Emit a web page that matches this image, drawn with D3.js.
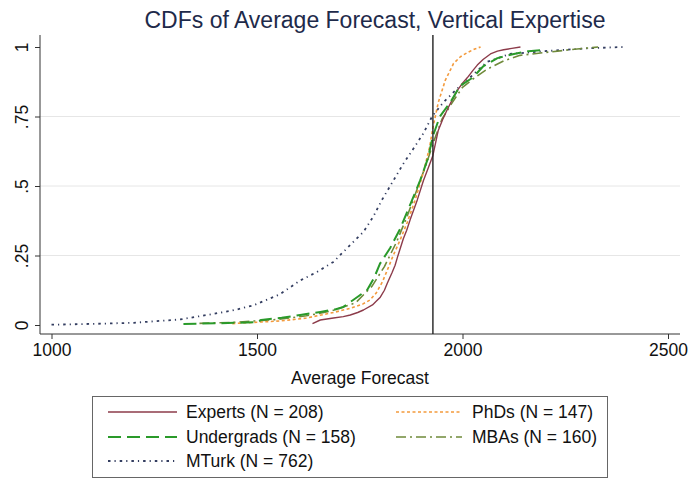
<!DOCTYPE html>
<html>
<head>
<meta charset="utf-8">
<script src="https://cdn.jsdelivr.net/npm/d3@7"></script>
<style>
  html, body { margin: 0; padding: 0; background: #fff; }
  svg { display: block; font-family: "Liberation Sans", Arial, Helvetica, sans-serif; }
</style>
</head>
<body>
<svg id="chart" width="690" height="481"></svg>
<script>
// Empirical CDFs of the average forecast, by forecaster group: [forecast, cumulative share]
const experts = [[1635,0.005],[1654,0.018],[1686,0.025],[1710,0.03],[1727,0.036],[1745,0.045],[1759,0.054],[1781,0.072],[1790,0.085],[1800,0.10],[1810,0.125],[1817,0.15],[1829,0.19],[1836,0.215],[1842,0.245],[1856,0.31],[1864,0.34],[1873,0.38],[1890,0.45],[1905,0.52],[1918,0.57],[1928,0.61],[1941,0.70],[1952,0.74],[1963,0.775],[1975,0.81],[1988,0.845],[2000,0.87],[2012,0.89],[2025,0.915],[2036,0.935],[2050,0.955],[2068,0.975],[2085,0.985],[2100,0.99],[2120,0.995],[2141,1.0]];
const phds = [[1440,0.005],[1500,0.01],[1560,0.015],[1620,0.025],[1686,0.045],[1727,0.06],[1757,0.075],[1775,0.09],[1790,0.115],[1805,0.155],[1815,0.19],[1830,0.245],[1848,0.305],[1865,0.367],[1885,0.45],[1905,0.55],[1920,0.64],[1928,0.71],[1941,0.80],[1958,0.88],[1978,0.94],[1995,0.965],[2012,0.98],[2030,0.993],[2044,1.0]];
const undergrads = [[1321,0.004],[1400,0.006],[1500,0.01],[1510,0.018],[1560,0.026],[1605,0.036],[1654,0.047],[1690,0.056],[1710,0.065],[1734,0.09],[1768,0.126],[1785,0.17],[1799,0.22],[1824,0.277],[1848,0.345],[1872,0.43],[1897,0.52],[1916,0.60],[1928,0.68],[1945,0.75],[1970,0.80],[1994,0.86],[2025,0.89],[2050,0.93],[2085,0.96],[2125,0.975],[2160,0.985],[2200,0.99]];
const mbas = [[1360,0.006],[1450,0.01],[1550,0.02],[1620,0.033],[1680,0.05],[1740,0.08],[1780,0.14],[1810,0.21],[1840,0.30],[1865,0.39],[1890,0.49],[1912,0.58],[1930,0.66],[1950,0.74],[1975,0.80],[2000,0.855],[2030,0.89],[2060,0.92],[2100,0.95],[2140,0.97],[2200,0.98],[2260,0.99],[2330,1.0]];
const mturk = [[1000,0.001],[1100,0.004],[1200,0.008],[1313,0.02],[1378,0.036],[1440,0.052],[1490,0.07],[1555,0.11],[1605,0.16],[1645,0.19],[1686,0.227],[1727,0.288],[1759,0.335],[1783,0.39],[1804,0.45],[1832,0.52],[1856,0.58],[1880,0.633],[1905,0.69],[1926,0.75],[1953,0.80],[1987,0.85],[2018,0.89],[2059,0.946],[2115,0.975],[2200,0.985],[2300,0.995],[2390,1.0]];

// Realized value shown as a vertical reference line
const realized = [1928];

const xTicks = [1000, 1500, 2000, 2500];
const yTicks = [0, 0.25, 0.5, 0.75, 1];
const yTickLabels = ["0", ".25", ".5", ".75", "1"];
const gridTicks = [0.25, 0.5, 0.75];

const seriesNames = ["Experts (N = 208)", "PhDs (N = 147)", "Undergrads (N = 158)", "MBAs (N = 160)", "MTurk (N = 762)"];
const seriesData = [experts, phds, undergrads, mbas, mturk];

const styles = [
  { color: "#8c3b4a", dash: null, width: 1.4 },
  { color: "#f39a3c", dash: "3,2.5", width: 1.6 },
  { color: "#2a9a2a", dash: "13,6", width: 2.0 },
  { color: "#6f8a3a", dash: "10,4,2,4", width: 1.6 },
  { color: "#333d60", dash: "2.5,4,1.2,4", width: 1.8 }
];

const svg = d3.select("#chart");
const plot = { left: 40, right: 680, top: 35, bottom: 334 };

const x = d3.scaleLinear().domain([1000, 2500]).range([51.5, 668]);
const y = d3.scaleLinear().domain([0, 1]).range([325, 47]);

// Horizontal grid lines
svg.append("g").selectAll("line").data(gridTicks).join("line")
  .attr("x1", plot.left).attr("x2", plot.right)
  .attr("y1", d => y(d)).attr("y2", d => y(d))
  .attr("stroke", "#e6e6e6").attr("stroke-width", 1);

// Axes
const xAxis = d3.axisBottom(x).tickValues(xTicks).tickSize(5).tickPadding(5).tickFormat(d3.format("d"));
const gx = svg.append("g").attr("transform", `translate(0,${plot.bottom})`).call(xAxis);
gx.select(".domain").remove();
gx.append("line").attr("x1", plot.left).attr("x2", plot.right).attr("stroke", "#333");
gx.selectAll(".tick line").attr("stroke", "#333");
gx.selectAll(".tick text").attr("font-size", 17.5).attr("fill", "#111").attr("font-family", "Liberation Sans, Arial, sans-serif");

const yAxis = d3.axisLeft(y).tickValues(yTicks).tickSize(5).tickFormat((d, i) => yTickLabels[i]);
const gy = svg.append("g").attr("transform", `translate(${plot.left},0)`).call(yAxis);
gy.select(".domain").remove();
gy.append("line").attr("y1", plot.top).attr("y2", plot.bottom).attr("stroke", "#333");
gy.selectAll(".tick line").attr("stroke", "#333");
gy.selectAll(".tick text")
  .attr("font-size", 17.5).attr("fill", "#111").attr("font-family", "Liberation Sans, Arial, sans-serif")
  .attr("x", null).attr("dy", null)
  .attr("text-anchor", "middle")
  .attr("transform", "translate(-12,0) rotate(-90)");

// CDF lines
const line = d3.line().x(d => x(d[0])).y(d => y(d[1]));
const order = [4, 3, 1, 0, 2];
svg.append("g").selectAll("path").data(order).join("path")
  .attr("d", i => line(seriesData[i]))
  .attr("fill", "none")
  .attr("stroke", i => styles[i].color)
  .attr("stroke-width", i => styles[i].width)
  .attr("stroke-dasharray", i => styles[i].dash)
  .attr("stroke-linejoin", "round");

// Reference line at the realized value
svg.append("g").selectAll("line").data(realized).join("line")
  .attr("x1", d => x(d)).attr("x2", d => x(d))
  .attr("y1", plot.top).attr("y2", plot.bottom)
  .attr("stroke", "#222").attr("stroke-width", 1.4);

// Title and axis label
svg.append("text").attr("x", 375).attr("y", 28).attr("text-anchor", "middle")
  .attr("font-size", 23).attr("fill", "#1e2a4a")
  .text("CDFs of Average Forecast, Vertical Expertise");
svg.append("text").attr("x", 360).attr("y", 384).attr("text-anchor", "middle")
  .attr("font-size", 17.5).attr("fill", "#111").text("Average Forecast");

// Legend
const legend = svg.append("g");
legend.append("rect").attr("x", 92.5).attr("y", 396.5).attr("width", 515).attr("height", 81)
  .attr("fill", "#fff").attr("stroke", "#666").attr("stroke-width", 1);
const slots = [
  { col: 0, row: 0 }, { col: 1, row: 0 }, { col: 0, row: 1 }, { col: 1, row: 1 }, { col: 0, row: 2 }
];
const colX = [{ k0: 108, k1: 177, t: 186 }, { k0: 396, k1: 462, t: 472 }];
const rowY = [412, 437, 461];
seriesNames.forEach((name, i) => {
  const s = slots[i], c = colX[s.col], yy = rowY[s.row];
  legend.append("line").attr("x1", c.k0).attr("x2", c.k1).attr("y1", yy).attr("y2", yy)
    .attr("stroke", styles[i].color).attr("stroke-width", styles[i].width)
    .attr("stroke-dasharray", styles[i].dash);
  legend.append("text").attr("x", c.t).attr("y", yy + 6).attr("font-size", 17.5).attr("fill", "#111").text(name);
});
</script>
</body>
</html>
